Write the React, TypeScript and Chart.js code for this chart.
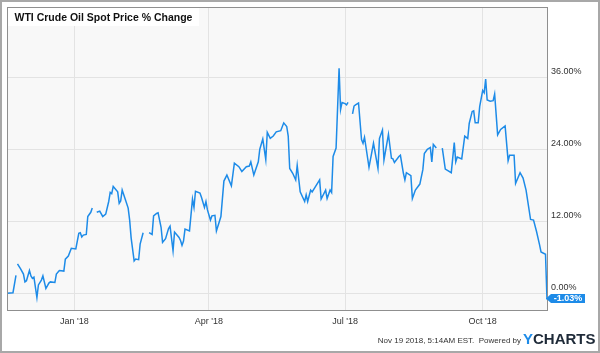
import React, { useEffect, useRef } from "react";
import { Chart, registerables } from "chart.js";

Chart.register(...registerables);

// Days counted from Jan 1 2018 (negative = late 2017); null value = gap in the series
const dayOffsets: number[] = [
  -45, -41, -39, -38.5, -38, -36, -34, -33, -32, -30, -29, -28, -27, -25, -24, -22, -21, -19, -17, -16,
  -13, -12, -10, -7, -6, -4, -2, 1, 3, 4, 5, 6, 8, 9, 11, 12, 13.5,
  15, 17, 19, 21, 23, 24, 25, 26, 29, 30, 31, 32, 34, 36, 37, 38, 40, 41, 43, 44, 46, 48,
  50, 52, 53, 55, 56, 58, 59, 61, 63, 64, 66, 67, 70, 71, 72, 73, 74, 77, 79, 80, 81, 84, 85, 87, 88,
  89, 91, 92, 94, 95, 98, 100, 102, 105, 107, 110, 112, 115, 117, 118, 120, 123, 124, 126, 128, 129,
  131, 133, 135, 138, 140, 142, 143, 144, 146, 148, 149, 151, 154, 155, 156, 158, 159, 161, 164, 165,
  168, 169, 171, 172, 173, 175, 177, 178, 179, 181, 182, 183, 184.5,
  186, 187, 188, 190, 192, 193, 194, 197, 200, 203, 204, 206, 207, 210, 212, 213, 214, 217, 218, 220,
  221, 222, 225, 226, 228, 231, 233, 234, 236, 238, 239, 240, 242, 244,
  246, 248, 252, 254, 255, 256, 259, 261, 263, 264, 266, 267, 268, 270, 271, 273, 274, 275, 276, 278,
  280, 281, 283, 285, 288, 290, 291, 294, 295, 298, 300, 302, 305, 307, 309, 311, 312, 315, 316,
];

const changePct: (number | null)[] = [
  0, 0.1, 3.0, null, 4.9, 4.1, 3.2, 1.9, 2.1, 3.8, 2.9, 2.5, 2.7, -0.7, 1.4, 2.2, 2.9, 0.8, 1.7, 1.9,
  1.8, 3.2, 3.8, 3.7, 5.7, 6.2, 7.5, 7.4, 10.0, 10.1, 9.4, 9.7, 9.8, 12.8, 13.5, 14.2, null,
  13.5, 13.7, 12.8, 13.2, 15.3, 16.8, 16.6, 17.8, 16.9, 15.0, 15.4, 17.2, 15.7, 14.2, 12.2, 9.2, 5.4, 5.7, 5.6, 8.2, 10.1, null,
  10.1, 9.8, 12.9, 13.3, 13.4, 11.0, 8.5, 9.1, 10.8, 11.2, 7.1, 10.2, 9.3, 8.8, 8.0, 8.7, 10.7, 10.4, 15.7, 14.3, 17.0, 16.7, 16.0, 14.3, 15.3,
  13.9, 12.2, 12.9, 13.0, 10.4, 12.8, 18.7, 19.7, 17.9, 21.7, 21.1, 20.3, 21.1, 21.2, 21.9, 19.7, 21.9, 24.0, 25.7, 22.3, 26.8,
  25.8, 26.2, 26.9, 27.1, 28.4, 27.8, 26.2, 20.8, 20.0, 18.9, 21.3, 16.9, 15.3, 16.4, 15.3, 17.2, 16.9, 17.7, 18.9, 15.7,
  17.2, 15.8, 17.2, 16.8, 22.8, 24.2, 37.5, 30.6, 31.8, 31.6, 31.4, 31.8, null,
  29.9, 31.2, 31.4, 31.7, 25.6, 25.0, 26.0, 21.0, 25.0, 20.8, 25.8, 27.2, 22.2, 26.5, 22.5, 22.4, 21.8, 22.8, 23.0, 20.0,
  18.9, 20.1, 19.6, 15.8, 17.2, 18.2, 20.6, 23.3, 24.0, 24.3, 21.9, 24.8, 24.2, null,
  24.2, 20.7, 20.1, 25.1, 21.9, 22.7, 22.4, 26.2, 25.8, 28.3, 30.3, 30.4, 28.4, 28.4, 31.1, 33.8, 33.4, 35.7, 32.2, 32.0,
  32.1, 33.2, 26.4, 27.3, 27.9, 22.1, 23.0, 23.0, 18.3, 20.1, 19.2, 17.2, 12.3, 12.2, 10.3, 8.1, 6.9, 6.5, -1.03,
];

const xTickDays: number[] = [0, 90, 181, 273];
const xTickLabels: string[] = ["Jan '18", "Apr '18", "Jul '18", "Oct '18"];
const yTickValues: number[] = [0, 12, 24, 36];

const titleText = "WTI Crude Oil Spot Price % Change";
const footerText = "Nov 19 2018, 5:14AM EST.  Powered by";

const X_MIN = -45;
const X_MAX = 316;
const Y_MIN = -2.78;
const Y_MAX = 47.7;

const FONT = '"Liberation Sans", Arial, Helvetica, sans-serif';
const BLUE = "#1d8be8";

const fmtPct = (v: number) => v.toFixed(2) + "%";

const decorPlugin = {
  id: "decor",
  beforeDraw(chart: any) {
    const { ctx, chartArea: a } = chart;
    ctx.save();
    ctx.fillStyle = "#ffffff";
    ctx.fillRect(0, 0, chart.width, chart.height);
    ctx.fillStyle = "#f8f8f8";
    ctx.fillRect(a.left, a.top, a.right - a.left, a.bottom - a.top);
    ctx.restore();
  },
  afterDraw(chart: any) {
    const { ctx, chartArea: a } = chart;
    const xs = chart.scales.x;
    const ys = chart.scales.y;
    ctx.save();

    // plot border
    ctx.strokeStyle = "#8f8f8f";
    ctx.lineWidth = 1;
    ctx.strokeRect(Math.round(a.left) + 0.5, Math.round(a.top) + 0.5, Math.round(a.right - a.left), Math.round(a.bottom - a.top));

    // outer frame
    ctx.strokeStyle = "#a8a8a8";
    ctx.lineWidth = 2;
    ctx.strokeRect(1, 1, chart.width - 2, chart.height - 2);

    // title box
    ctx.fillStyle = "#ffffff";
    ctx.fillRect(a.left + 1, a.top + 1, 191, 18);
    ctx.fillStyle = "#111111";
    ctx.font = `bold 10.5px ${FONT}`;
    ctx.textAlign = "left";
    ctx.textBaseline = "alphabetic";
    ctx.fillText(titleText, 14.5, 21);

    // y labels
    ctx.font = `9px ${FONT}`;
    ctx.fillStyle = "#333333";
    ctx.textAlign = "left";
    ctx.textBaseline = "alphabetic";
    yTickValues.forEach((v) => {
      const py = ys.getPixelForValue(v);
      ctx.fillText(fmtPct(v), a.right + 4, py - 3);
    });

    // x labels
    ctx.textAlign = "center";
    ctx.textBaseline = "middle";
    xTickDays.forEach((d, i) => {
      ctx.fillText(xTickLabels[i], xs.getPixelForValue(d), a.bottom + 12);
    });

    // last value tag
    let lastIdx = changePct.length - 1;
    while (lastIdx >= 0 && changePct[lastIdx] == null) lastIdx--;
    const lastV = changePct[lastIdx] as number;
    const ty = Math.round(ys.getPixelForValue(lastV)) - 0.5;
    const tx = a.right - 1;
    ctx.fillStyle = BLUE;
    ctx.beginPath();
    ctx.moveTo(tx, ty);
    ctx.lineTo(tx + 5, ty - 4.5);
    ctx.lineTo(tx + 39, ty - 4.5);
    ctx.lineTo(tx + 39, ty + 4.5);
    ctx.lineTo(tx + 5, ty + 4.5);
    ctx.closePath();
    ctx.fill();
    ctx.fillStyle = "#ffffff";
    ctx.font = `bold 9px ${FONT}`;
    ctx.textAlign = "center";
    ctx.textBaseline = "middle";
    ctx.fillText(fmtPct(lastV), tx + 22, ty + 0.5);

    // footer
    ctx.fillStyle = "#333333";
    ctx.font = `8px ${FONT}`;
    ctx.textAlign = "right";
    ctx.textBaseline = "alphabetic";
    ctx.fillText(footerText, 521, 343);
    ctx.textAlign = "left";
    ctx.font = `bold 15px ${FONT}`;
    ctx.fillStyle = BLUE;
    ctx.fillText("Y", 523, 344);
    const yw = ctx.measureText("Y").width;
    ctx.fillStyle = "#1e2a38";
    ctx.fillText("CHARTS", 523 + yw, 344);

    ctx.restore();
  },
};

export default function App() {
  const ref = useRef<HTMLCanvasElement>(null);

  useEffect(() => {
    document.body.style.margin = "0";
    const canvas = ref.current;
    if (!canvas) return;
    const points = dayOffsets.map((d, i) => ({ x: d, y: changePct[i] }));
    const chart = new Chart(canvas, {
      type: "line",
      data: {
        datasets: [
          {
            data: points as any,
            borderColor: BLUE,
            borderWidth: 1.5,
            pointRadius: 0,
            fill: false,
            tension: 0,
            spanGaps: false,
          },
        ],
      },
      options: {
        responsive: false,
        animation: false,
        devicePixelRatio: 1,
        events: [],
        layout: { padding: { left: 7, top: 7, right: 53, bottom: 43 } },
        plugins: {
          legend: { display: false },
          tooltip: { enabled: false },
          title: { display: false },
        },
        scales: {
          x: {
            type: "linear",
            min: X_MIN,
            max: X_MAX,
            ticks: { display: false },
            grid: { color: "#e3e3e3", lineWidth: 1, drawTicks: false },
            border: { display: false },
            afterBuildTicks: (s: any) => {
              s.ticks = xTickDays.map((v) => ({ value: v }));
            },
          },
          y: {
            type: "linear",
            position: "right",
            min: Y_MIN,
            max: Y_MAX,
            ticks: { display: false },
            grid: { color: "#e3e3e3", lineWidth: 1, drawTicks: false },
            border: { display: false },
            afterBuildTicks: (s: any) => {
              s.ticks = yTickValues.map((v) => ({ value: v }));
            },
          },
        },
      },
      plugins: [decorPlugin],
    });
    return () => chart.destroy();
  }, []);

  return (
    <div style={{ width: 600, height: 353 }}>
      <canvas ref={ref} width={600} height={353} style={{ display: "block" }} />
    </div>
  );
}
